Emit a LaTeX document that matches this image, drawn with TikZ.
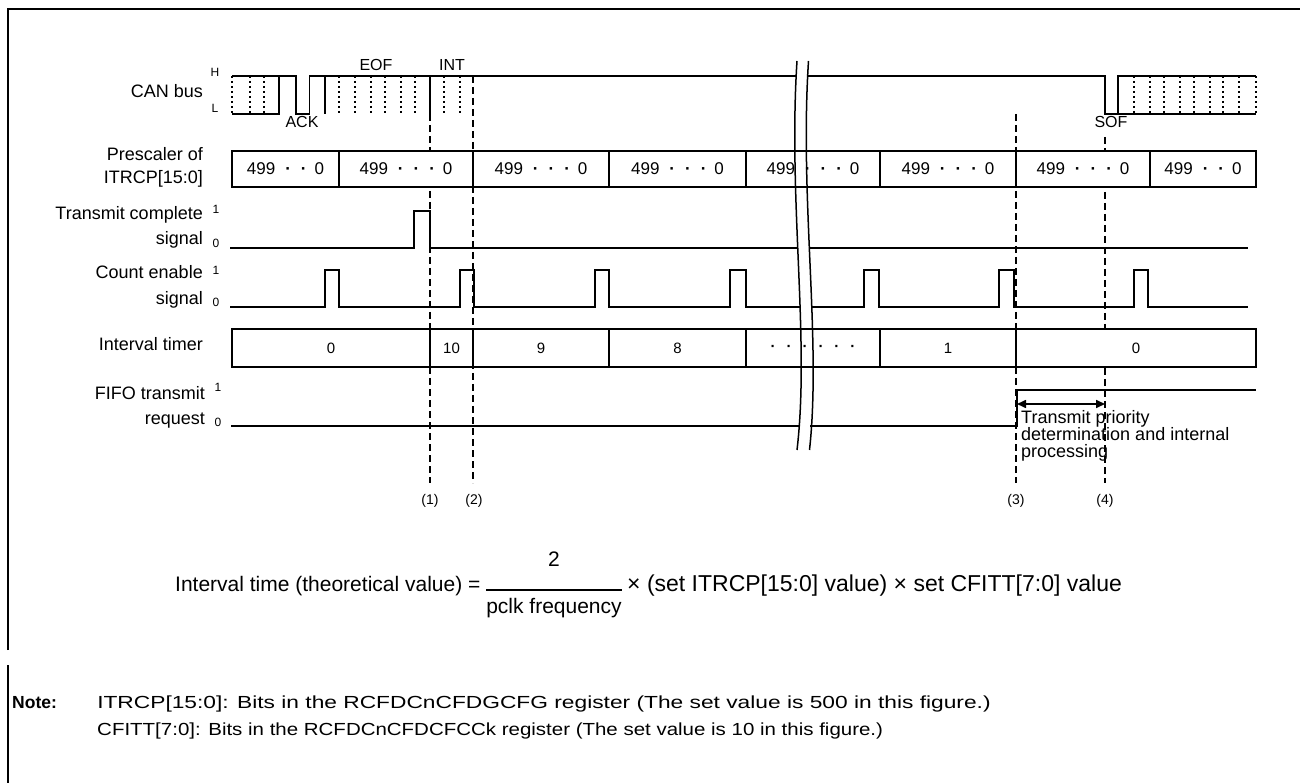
\documentclass[tikz,border=0pt]{standalone}
\usepackage{fontspec}
\setmainfont{Liberation Sans}
\usetikzlibrary{arrows.meta}
\newcommand\myfs[1]{\fontsize{#1}{#1}\selectfont}
\newcommand\pdot{\textbf{·}}
\newcommand\psthree{499\hspace{10pt}\pdot\hspace{10pt}\pdot\hspace{10pt}\pdot\hspace{8pt}0}
\newcommand\pstwo{499\hspace{10pt}\pdot\hspace{10pt}\pdot\hspace{8pt}0}
\tikzset{
  frame/.style={line width=2.5pt},
  sig/.style={line width=1.6pt},
  dotln/.style={line width=1.5pt, dash pattern=on 2.5pt off 2.5pt},
  dsh/.style={line width=1.4pt, dash pattern=on 7pt off 4pt},
  brk/.style={line width=1.5pt},
  pcell/.style={draw, line width=1.6pt, fill=white, minimum height=36pt, inner sep=0pt, outer sep=0pt, font=\myfs{17}},
  icell/.style={draw, line width=1.6pt, fill=white, minimum height=38pt, inner sep=0pt, outer sep=0pt, font=\myfs{15}},
  lbl/.style={anchor=mid east, inner sep=0pt, font=\myfs{18}},
  lvl/.style={anchor=mid, inner sep=0pt, font=\myfs{12}},
  tag/.style={anchor=mid, inner sep=0pt, font=\myfs{16}},
  num/.style={anchor=mid, inner sep=0pt, font=\myfs{14}},
  txt/.style={anchor=mid west, inner sep=0pt, font=\myfs{18}},
  notetxt/.style={anchor=mid west, inner sep=0pt, font=\myfs{17.5}, transform shape},
  arr/.style={line width=1.6pt, {Triangle[length=9pt,width=8pt]}-{Triangle[length=9pt,width=8pt]}},
}
\begin{document}
\begin{tikzpicture}[x=1pt,y=-1pt]
\useasboundingbox (0,0) rectangle (1301,783);
% frame
\draw[frame] (8,650) -- (8,9) -- (1300,9);
\draw[frame] (8,665) -- (8,783);

% dashed reference lines
\draw[dsh] (430,114) -- (430,483);
\draw[dsh] (473,76) -- (473,483);
\draw[dsh] (1016,114) -- (1016,483);
\draw[dsh] (1105,137) -- (1105,483);
\node[num] (n1) at (430,502) {(1)};
\node[num] (n2) at (474,502) {(2)};
\node[num] (n3) at (1016,502) {(3)};
\node[num] (n4) at (1105,502) {(4)};

% CAN bus
\node[lbl] (lcan) at (203,95) {CAN bus};
\node[lvl] (sH) at (215,74) {H};
\node[lvl] (sL) at (215,110) {L};
\draw[sig] (232,76) -- (295.7,76) -- (295.7,114) -- (309.3,114) -- (309.3,76) -- (797,76);
\draw[sig] (232,114) -- (279,114) -- (279,76);
\draw[sig] (325,76) -- (325,114);
\draw[sig] (430,76) -- (430,114);
\foreach \x in {232,250,264,339,355,371,385,401,415,444,460} \draw[dotln] (\x,76) -- (\x,114);
\draw[sig] (808,76) -- (1105,76) -- (1105,114) -- (1118,114) -- (1118,76) -- (1256,76);
\draw[sig] (1118,114) -- (1256,114);
\foreach \x in {1134,1150,1164,1180,1194,1210,1223,1239,1256} \draw[dotln] (\x,76) -- (\x,114);
\node[tag] (tack) at (302,125) {ACK};
\node[tag] (teof) at (376,68) {EOF};
\node[tag] (tint) at (452,68) {INT};
\node[tag] (tsof) at (1111,125) {SOF};

% Prescaler
\node[lbl] (lpre1) at (203,158) {Prescaler of};
\node[lbl] (lpre2) at (203,181) {ITRCP[15:0]};
\node[pcell, minimum width=107pt] (p1) at (285.5,169) {\pstwo};
\node[pcell, minimum width=134pt] (p2) at (406,169) {\psthree};
\node[pcell, minimum width=136pt] (p3) at (541,169) {\psthree};
\node[pcell, minimum width=137pt] (p4) at (677.5,169) {\psthree};
\node[pcell, minimum width=134pt] (p5) at (813,169) {\psthree};
\node[pcell, minimum width=136pt] (p6) at (948,169) {\psthree};
\node[pcell, minimum width=134pt] (p7) at (1083,169) {\psthree};
\node[pcell, minimum width=106pt] (p8) at (1203,169) {\pstwo};

% Transmit complete signal
\node[lbl] (ltc1) at (203,217) {Transmit complete};
\node[lbl] (ltc2) at (203,242) {signal};
\node[lvl] (stc1) at (216,211) {1};
\node[lvl] (stc0) at (216,245) {0};
\draw[sig] (230,248) -- (414,248) -- (414,211) -- (430,211) -- (430,248) -- (797,248);
\draw[sig] (808.5,248) -- (1248,248);

% Count enable signal
\node[lbl] (lce1) at (203,276) {Count enable};
\node[lbl] (lce2) at (203,302) {signal};
\node[lvl] (sce1) at (216,272) {1};
\node[lvl] (sce0) at (216,304) {0};
\draw[sig] (230,307) -| (325,270) -| (339,307) -| (460,270) -| (474,307) -| (595,270) -| (609,307) -| (730,270) -| (746,307) -- (800,307);
\draw[sig] (812,307) -| (864,270) -| (879,307) -| (999,270) -| (1014,307) -| (1134,270) -| (1148,307) -- (1248,307);

% Interval timer
\node[lbl] (lit) at (203,348) {Interval timer};
\node[icell, minimum width=198pt] (i1) at (331,348) {0};
\node[icell, minimum width=43pt] (i2) at (451.5,348) {10};
\node[icell, minimum width=136pt] (i3) at (541,348) {9};
\node[icell, minimum width=137pt] (i4) at (677.5,348) {8};
\node[icell, minimum width=134pt] (i5) at (813,348) {\pdot\hspace{11pt}\pdot\hspace{11pt}\pdot\hspace{11pt}\pdot\hspace{11pt}\pdot\hspace{11pt}\pdot};
\node[icell, minimum width=136pt] (i6) at (948,348) {1};
\node[icell, minimum width=240pt] (i7) at (1136,348) {0};

% FIFO transmit request
\node[lbl] (lff1) at (205,397) {FIFO transmit};
\node[lbl] (lff2) at (205,422) {request};
\node[lvl] (sff1) at (218,389) {1};
\node[lvl] (sff0) at (218,424) {0};
\draw[sig] (231,426) -- (799,426);
\draw[sig] (810,426) -- (1017,426) -- (1017,390) -- (1256,390);
\coordinate (arA) at (1017,404);
\coordinate (arB) at (1105,404);
\draw[arr] (arA) -- (arB);
\node[txt] (tp1) at (1021,421) {Transmit priority};
\node[txt] (tp2) at (1021,438) {determination and internal};
\node[txt] (tp3) at (1021,455) {processing};

% break marks
\draw[brk] (797,61) .. controls (788,200) and (810,340) .. (797,450);
\draw[brk] (808.5,61) .. controls (799.5,200) and (821.5,340) .. (809.5,450);

% formula
\node[anchor=mid west, inner sep=0pt, font=\myfs{21}] (f1) at (175,589) {Interval time (theoretical value) =};
\node[anchor=mid, inner sep=0pt, font=\myfs{21}] (fnum) at (554,564) {2};
\node[anchor=mid, inner sep=0pt, font=\myfs{21}] (fden) at (554,611) {pclk frequency};
\coordinate (barA) at (486,590);
\coordinate (barB) at (622,590);
\draw[line width=1.4pt] (barA) -- (barB);
\node[anchor=mid west, inner sep=0pt, font=\myfs{23}] (f3) at (627,589) {× (set ITRCP[15:0] value) × set CFITT[7:0] value};

% note
\node[anchor=mid west, inner sep=0pt, font=\bfseries\myfs{17.5}] (note) at (12,706) {Note:};
\node[notetxt, xscale=1.3] (nl1) at (97,706) {ITRCP[15:0]: Bits in the RCFDCnCFDGCFG register (The set value is 500 in this figure.)};
\node[notetxt, xscale=1.17] (nl2) at (97,733) {CFITT[7:0]: Bits in the RCFDCnCFDCFCCk register (The set value is 10 in this figure.)};
\end{tikzpicture}
\end{document}
